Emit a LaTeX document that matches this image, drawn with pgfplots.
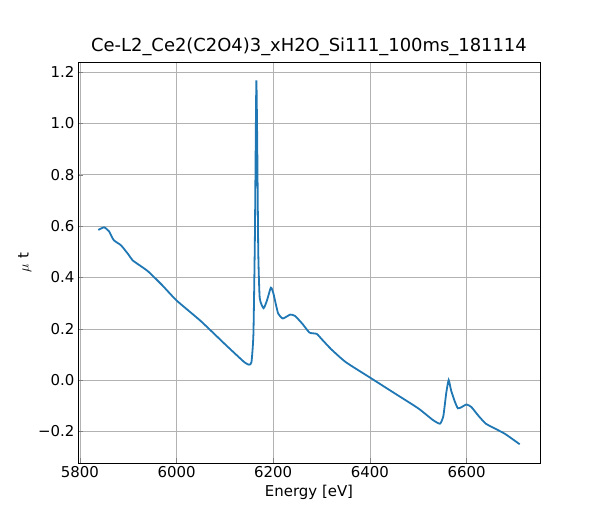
\documentclass[border=0pt]{standalone}
\usepackage{pgfplots}
\pgfplotsset{compat=1.18}
\usepackage{fontspec}
\setmainfont{DejaVu Sans}
\begin{document}
\begin{tikzpicture}
\path[use as bounding box] (-78bp,-57bp) rectangle (522bp,463bp);
\begin{axis}[
  at={(0,0)}, anchor=south west, scale only axis,
  width=462bp, height=401bp,
  xmin=5796, xmax=6752, ymin=-0.323, ymax=1.239,
  xtick={5800,6000,6200,6400,6600},
  xticklabels={5800,6000,6200,6400,6600},
  ytick={-0.2,0,0.2,0.4,0.6,0.8,1.0,1.2},
  yticklabels={−0.2,0.0,0.2,0.4,0.6,0.8,1.0,1.2},
  tick align=inside, tick pos=left,
  major tick length=5bp,
  grid=major, major grid style={gray!60},
  ticklabel style={font=\fontsize{15}{17}\selectfont},
  xlabel={Energy [eV]}, ylabel={$\mu$ t},
  label style={font=\fontsize{15}{17}\selectfont},
  title={Ce-L2\_Ce2(C2O4)3\_xH2O\_Si111\_100ms\_181114},
  title style={font=\fontsize{18}{21}\selectfont, yshift=-3bp},
]
\addplot[color={rgb,255:red,31;green,119;blue,180}, line width=1.8bp, smooth, tension=0.3] coordinates {
(5838,0.585)(5850,0.595)(5860,0.58)(5870,0.545)(5885,0.525)(5900,0.49)(5910,0.465)
(5940,0.425)(5970,0.37)(6000,0.31)(6050,0.23)(6100,0.14)(6140,0.07)(6150,0.06)
(6155,0.07)(6159,0.18)(6162,0.55)(6165,1.165)(6167,0.9)(6169,0.5)(6172,0.32)
(6180,0.28)(6187,0.31)(6195,0.36)(6200,0.34)(6210,0.26)(6220,0.24)(6235,0.255)
(6245,0.25)(6260,0.22)(6275,0.185)(6290,0.18)(6300,0.16)(6320,0.12)(6350,0.07)
(6400,0.01)(6450,-0.05)(6500,-0.11)(6530,-0.155)(6545,-0.17)(6552,-0.14)
(6558,-0.05)(6563,0.0)(6568,-0.04)(6575,-0.08)(6582,-0.11)(6590,-0.105)
(6600,-0.095)(6610,-0.105)(6625,-0.14)(6640,-0.17)(6660,-0.19)(6680,-0.21)(6710,-0.25)};
\end{axis}
\end{tikzpicture}
\end{document}
